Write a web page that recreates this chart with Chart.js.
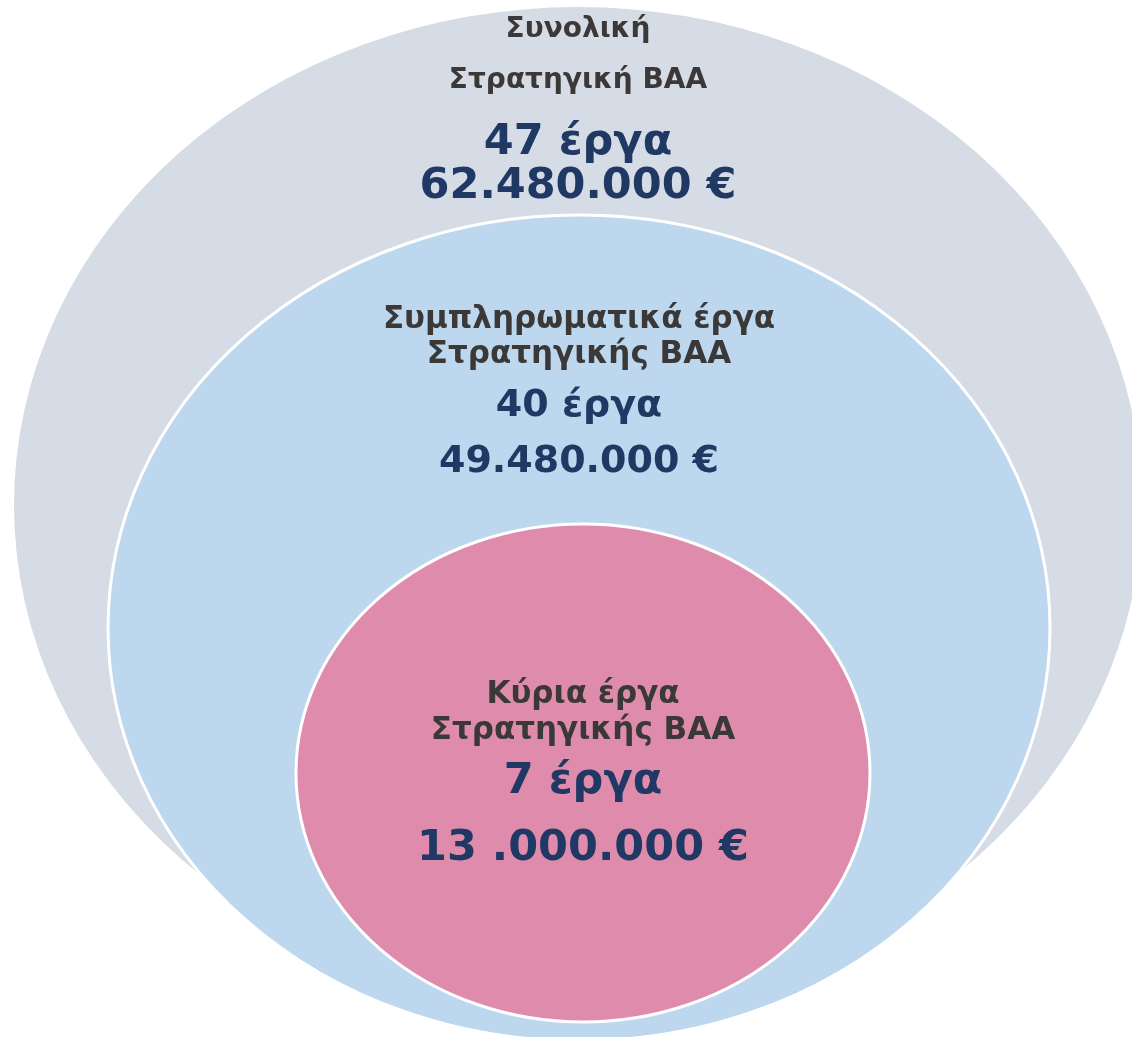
<!DOCTYPE html>
<html>
<head>
    <title>Στρατηγική ΒΑΑ</title>
    <script src="https://cdn.jsdelivr.net/npm/chart.js"></script>
    <style>
        body { margin: 0; background: #ffffff; }
        #wrap { width: 1132px; height: 1037px; position: relative; }
    </style>
</head>
<body>
    <div id="wrap"><canvas id="myChart"></canvas></div>
    <script>
        // values
        const groupTitles = [
            ['Συνολική', 'Στρατηγική ΒΑΑ'],
            ['Συμπληρωματικά έργα', 'Στρατηγικής ΒΑΑ'],
            ['Κύρια έργα', 'Στρατηγικής ΒΑΑ']
        ];
        const projectCounts = [47, 40, 7];
        const amountLabels = ['62.480.000 €', '49.480.000 €', '13 .000.000 €'];

        // layout (in axis units, 0..1132 x 0..1037)
        const ellipseLayout = [
            { cx: 578, cy: 505, rx: 564, ry: 498 },
            { cx: 579, cy: 628, rx: 471, ry: 413 },
            { cx: 583, cy: 773, rx: 287, ry: 249 }
        ];
        const fills = ['#D6DCE5', '#BDD7EE', '#DF8BAC'];
        const borders = [null, '#ffffff', '#ffffff'];
        // y of each text line: title lines, count, amount
        const textRows = [
            [30, 81, 143, 187],
            [320, 355, 406, 462],
            [695, 731, 782, 849]
        ];
        const titleSizes = [28, 31, 31];
        const valueSizes = [43, 38, 43];

        const ellipsePlugin = {
            id: 'ellipses',
            beforeDatasetsDraw(chart) {
                const ctx = chart.ctx;
                const xs = chart.scales.x, ys = chart.scales.y;
                chart.data.datasets.forEach((ds, i) => {
                    const p = ds.data[0];
                    const px = xs.getPixelForValue(p.x);
                    const py = ys.getPixelForValue(p.y);
                    const rx = Math.abs(xs.getPixelForValue(p.x + ds.rx) - px);
                    const ry = Math.abs(ys.getPixelForValue(p.y + ds.ry) - py);
                    ctx.save();
                    ctx.beginPath();
                    ctx.ellipse(px, py, rx, ry, 0, 0, Math.PI * 2);
                    ctx.fillStyle = ds.fill;
                    ctx.fill();
                    if (ds.edge) {
                        ctx.lineWidth = 3;
                        ctx.strokeStyle = ds.edge;
                        ctx.stroke();
                    }
                    ctx.restore();
                });
            },
            afterDatasetsDraw(chart) {
                const ctx = chart.ctx;
                const xs = chart.scales.x, ys = chart.scales.y;
                chart.data.datasets.forEach((ds, i) => {
                    const cx = xs.getPixelForValue(ds.data[0].x);
                    const rows = textRows[i];
                    const lines = [
                        [groupTitles[i][0], titleSizes[i], '#3B3838'],
                        [groupTitles[i][1], titleSizes[i], '#3B3838'],
                        [projectCounts[i] + ' έργα', valueSizes[i], '#203864'],
                        [amountLabels[i], valueSizes[i], '#203864']
                    ];
                    ctx.save();
                    ctx.textAlign = 'center';
                    ctx.textBaseline = 'middle';
                    lines.forEach((l, j) => {
                        ctx.font = 'bold ' + l[1] + 'px "DejaVu Sans"';
                        ctx.fillStyle = l[2];
                        ctx.fillText(l[0], cx, ys.getPixelForValue(rows[j]));
                    });
                    ctx.restore();
                });
            }
        };

        const ctx = document.getElementById('myChart').getContext('2d');
        new Chart(ctx, {
            type: 'scatter',
            data: {
                datasets: ellipseLayout.map((e, i) => ({
                    label: groupTitles[i].join(' '),
                    data: [{ x: e.cx, y: e.cy }],
                    rx: e.rx,
                    ry: e.ry,
                    fill: fills[i],
                    edge: borders[i],
                    pointRadius: 0
                }))
            },
            options: {
                responsive: true,
                maintainAspectRatio: false,
                animation: false,
                layout: { padding: 0 },
                plugins: { legend: { display: false }, tooltip: { enabled: false } },
                scales: {
                    x: { display: false, min: 0, max: 1132 },
                    y: { display: false, min: 0, max: 1037, reverse: true }
                }
            },
            plugins: [ellipsePlugin]
        });
    </script>
</body>
</html>
